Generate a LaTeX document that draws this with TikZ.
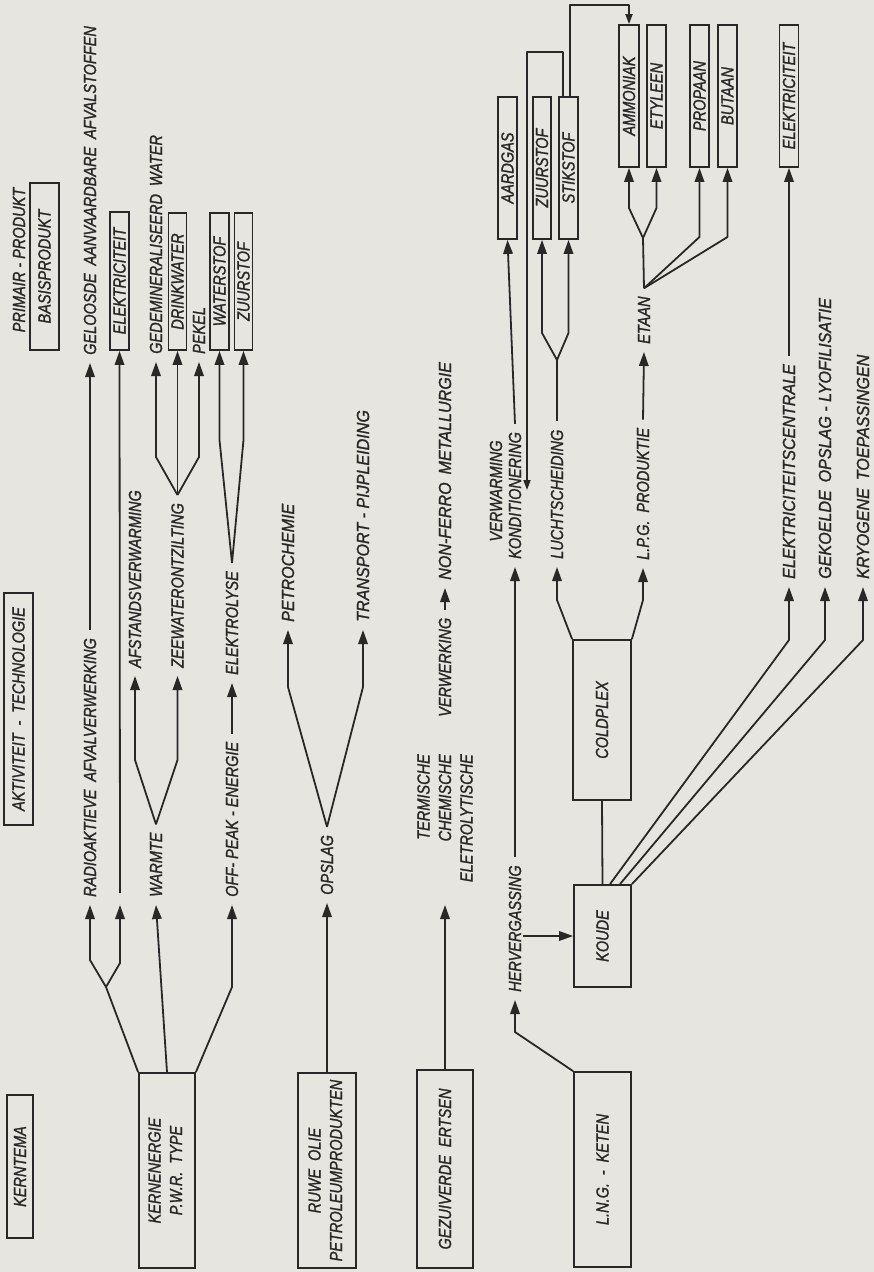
\documentclass[tikz,border=0pt]{standalone}
\usepackage{fontspec}
\newfontfamily\lett{Liberation Sans}[FakeStretch=0.83,FakeBold=1.3]
\newfontfamily\lettw{Liberation Sans}[FakeStretch=0.92,FakeBold=1.3]
\usetikzlibrary{arrows.meta,calc}
\definecolor{paper}{RGB}{231,229,223}
\definecolor{ink}{RGB}{40,40,40}
\newcommand\ws{\hspace{0.45em}}
\begin{document}
\begin{tikzpicture}[x=1pt,y=-1pt,
  every node/.style={font=\lett\itshape\fontsize{17.5}{21.5}\selectfont, text=ink},
  wide/.style={font=\lettw\itshape\fontsize{17.5}{21.5}\selectfont},
  line/.style={draw=ink,line width=1.8pt,line join=round},
  arr/.style={line,-{Triangle[length=14pt,width=9.5pt]}},
  sarr/.style={line,-{Triangle[length=10pt,width=7pt]}},
  box/.style={draw=ink,line width=1.8pt,inner sep=0pt},
  lab/.style={rotate=90,inner xsep=8pt,inner ysep=2pt,anchor=west}]
\fill[paper] (0,0) rectangle (874,1272);
\useasboundingbox (0,0) rectangle (874,1272);

% ---------- header column
\node[box,minimum width=26,minimum height=143] (kerntema) at (20,1166.5) {\rotatebox{90}{KERNTEMA}};
\node[box,minimum width=29,minimum height=232] (aktiv) at (18.5,709) {\rotatebox{90}{AKTIVITEIT\ws -\ws TECHNOLOGIE}};
\node[rotate=90] (primair) at (19,260) {PRIMAIR - PRODUKT};
\node[box,minimum width=29,minimum height=167] (basis) at (44.5,266.5) {\rotatebox{90}{BASISPRODUKT}};

% ---------- nuclear
\node[box,minimum width=56,minimum height=195] (kern) at (167,1170.5) {\rotatebox{90}{\begin{tabular}{@{}c@{}}KERNENERGIE\\P.W.R.\ws TYPE\end{tabular}}};
\node[lab] (radio) at (90,905) {RADIOAKTIEVE\ws AFVALVERWERKING};
\coordinate (e0) at (120,905);
\coordinate (e1) at (120,893);
\node[lab] (warmte) at (156,905) {WARMTE};
\node[lab] (offpeak) at (232,905) {OFF- PEAK - ENERGIE};
\node[lab] (geloosde) at (90,363) {GELOOSDE\ws AANVAARDBARE\ws AFVALSTOFFEN};
\node[box,minimum width=19,minimum height=138] (elek1) at (119.5,281) {\rotatebox{90}{ELEKTRICITEIT}};
\node[lab] (afstand) at (135,676) {AFSTANDSVERWARMING};
\node[lab] (zee) at (177.5,676) {ZEEWATERONTZILTING};
\node[lab] (gedem) at (156,362) {GEDEMINERALISEERD\ws WATER};
\node[box,minimum width=18,minimum height=137] (drink) at (177.5,281.5) {\rotatebox{90}{DRINKWATER}};
\node[lab] (pekel) at (199,362) {PEKEL};
\node[lab] (elyse) at (232,683) {ELEKTROLYSE};
\node[box,minimum width=19,minimum height=137] (waterst) at (219.5,281.5) {\rotatebox{90}{WATERSTOF}};
\node[box,minimum width=18,minimum height=137] (zuur1) at (243.5,281.5) {\rotatebox{90}{ZUURSTOF}};

\coordinate (b1) at (106,987);
\coordinate (b2) at (90,960);
\coordinate (b3) at (120,963);
\coordinate (b4) at (232,987);
\draw[line] (kern.north west) -- (b1);
\draw[arr] (b1) -- (b2) -- (radio.west);
\draw[arr] (b1) -- (b3) -- (e0);
\draw[arr] (e1) -- (elek1.south);
\draw[arr] (kern.north) -- (warmte.west);
\draw[arr] (kern.north east) -- (b4) -- (offpeak.west);
\draw[arr] (radio.east) -- (geloosde.west);
\coordinate (w1) at (135,760);
\coordinate (w2) at (177.5,760);
\draw[arr] (warmte.east) -- (w1) -- (afstand.west);
\draw[arr] (warmte.east) -- (w2) -- (zee.west);
\coordinate (z1) at (156,457);
\coordinate (z2) at (199,457);
\draw[arr] (zee.east) -- (z1) -- (gedem.west);
\draw[arr] (zee.east) -- (drink.south);
\draw[arr] (zee.east) -- (z2) -- (pekel.west);
\draw[arr] (offpeak.east) -- (elyse.west);
\coordinate (l1) at (219.5,440);
\coordinate (l2) at (243.5,440);
\draw[arr] (elyse.east) -- (l1) -- (waterst.south);
\draw[arr] (elyse.east) -- (l2) -- (zuur1.south);

% ---------- petroleum
\node[box,minimum width=58,minimum height=195] (ruwe) at (327,1170.5) {\rotatebox{90}{\begin{tabular}{@{}c@{}}RUWE\ws OLIE\\PETROLEUMPRODUKTEN\end{tabular}}};
\node[lab] (opslag) at (327,903) {OPSLAG};
\draw[arr] (ruwe.north) -- (opslag.west);
\coordinate (p1) at (288,687);
\coordinate (p2) at (363,687);
\node[lab,wide] (petro) at (288,630) {PETROCHEMIE};
\node[lab,wide] (transport) at (363,630) {TRANSPORT - PIJPLEIDING};
\draw[arr] (opslag.east) -- (p1) -- (petro.west);
\draw[arr] (opslag.east) -- (p2) -- (transport.west);

% ---------- ores
\node[box,minimum width=56,minimum height=198] (erts) at (445,1169) {\rotatebox{90}{GEZUIVERDE\ws ERTSEN}};
\coordinate (tcein) at (445,905);
\draw[arr] (erts.north) -- (tcein);
\node[rotate=90,align=right,anchor=east,inner sep=0pt] (tce) at (445,754) {TERMISCHE\\CHEMISCHE\\ELETROLYTISCHE};
\node[lab] (verw) at (445,725) {VERWERKING};
\node[lab,wide] (nonferro) at (445,588) {NON-FERRO\ws METALLURGIE};
\draw[arr] (verw.east) -- (nonferro.west);

% ---------- LNG
\node[box,minimum width=57,minimum height=195] (lng) at (602.5,1169.5) {\rotatebox{90}{L.N.G.\ws -\ws KETEN}};
\coordinate (h1) at (515,1032);
\node[lab] (herverg) at (515,1000) {HERVERGASSING};
\draw[arr] (lng.north west) -- (h1) -- (herverg.west);
\node[box,minimum width=57,minimum height=102] (koude) at (602.5,936) {\rotatebox{90}{KOUDE}};
\draw[arr] (herverg.south |- koude.west) -- (koude.west);
\node[box,minimum width=58,minimum height=160] (coldplex) at (602,720) {\rotatebox{90}{COLDPLEX}};
\draw[line] (koude.north) -- (coldplex.south);

\node[lab,wide] (elc) at (789,587) {ELEKTRICITEITSCENTRALE};
\node[lab,wide] (gek) at (825,587) {GEKOELDE\ws OPSLAG - LYOFILISATIE};
\node[lab,wide] (kry) at (863,587) {KRYOGENE\ws TOEPASSINGEN};
\coordinate (k1) at (789,640);
\coordinate (k2) at (825,640);
\coordinate (k3) at (863,640);
\draw[arr] ($(koude.north)+(7.5,0)$) -- (k1) -- (elc.west);
\draw[arr] ($(koude.north)+(17.5,0)$) -- (k2) -- (gek.west);
\draw[arr] (koude.north east) -- (k3) -- (kry.west);
\node[box,minimum width=19,minimum height=142] (elek2) at (789,96) {\rotatebox{90}{ELEKTRICITEIT}};
\draw[arr] (elc.east) -- (elek2.south);

% top boxes
\node[box,minimum width=19,minimum height=142] (aardgas) at (507.5,168) {\rotatebox{90}{AARDGAS}};
\node[box,minimum width=18,minimum height=142] (zuur2) at (542,168) {\rotatebox{90}{ZUURSTOF}};
\node[box,minimum width=19,minimum height=142] (stik) at (568.5,168) {\rotatebox{90}{STIKSTOF}};
\node[box,minimum width=20,minimum height=142] (ammon) at (629,96) {\rotatebox{90}{AMMONIAK}};
\node[box,minimum width=19,minimum height=142] (etyl) at (656.5,96) {\rotatebox{90}{ETYLEEN}};
\node[box,minimum width=19,minimum height=142] (prop) at (699.5,96) {\rotatebox{90}{PROPAAN}};
\node[box,minimum width=19,minimum height=142] (but) at (727.5,96) {\rotatebox{90}{BUTAAN}};

% luchtscheiding
\coordinate (c1) at (557,600);
\node[lab] (lucht) at (557,567) {LUCHTSCHEIDING};
\draw[arr] (coldplex.north west) -- (c1) -- (lucht.west);
\coordinate (lv) at (557,360);
\coordinate (lz) at (542,333);
\coordinate (ls) at (568.5,333);
\draw[line] (lucht.east) -- (lv);
\draw[arr] (lv) -- (lz) -- (zuur2.south);
\draw[arr] (lv) -- (ls) -- (stik.south);

% LPG
\coordinate (c2) at (643,600);
\node[lab] (lpg) at (643,568) {L.P.G.\ws PRODUKTIE};
\draw[arr] (coldplex.north east) -- (c2) -- (lpg.west);
\node[lab] (etaan) at (644,352) {ETAAN};
\draw[arr] (lpg.east) -- (etaan.west);
\coordinate (t1) at (643,238);
\coordinate (t2) at (629,208);
\coordinate (t3) at (656.5,208);
\coordinate (t4) at (699.5,237);
\coordinate (t5) at (727.5,237);
\draw[line] (etaan.east) -- (t1);
\draw[arr] (t1) -- (t2) -- (ammon.south);
\draw[arr] (t1) -- (t3) -- (etyl.south);
\draw[arr] (etaan.east) -- (t4) -- (prop.south);
\draw[arr] (etaan.east) -- (t5) -- (but.south);

% verwarming / konditionering
\node[lab] (kond) at (515,567) {KONDITIONERING};
\node[rotate=90] (verwarm) at (496,491) {VERWARMING};
\draw[arr] (herverg.east) -- (kond.west);
\draw[arr] (kond.east) -- (aardgas.south);
\coordinate (s1) at (563,52);
\coordinate (s1b) at (527,52);
\coordinate (kondin) at (527,490);
\draw[sarr] ($(stik.north)+(-5.5,0)$) -- (s1) -- (s1b) -- (kondin);
\coordinate (s2) at (570,5);
\draw[sarr] ($(stik.north)+(1.5,0)$) -- (s2) -| (ammon.north);
\end{tikzpicture}
\end{document}
